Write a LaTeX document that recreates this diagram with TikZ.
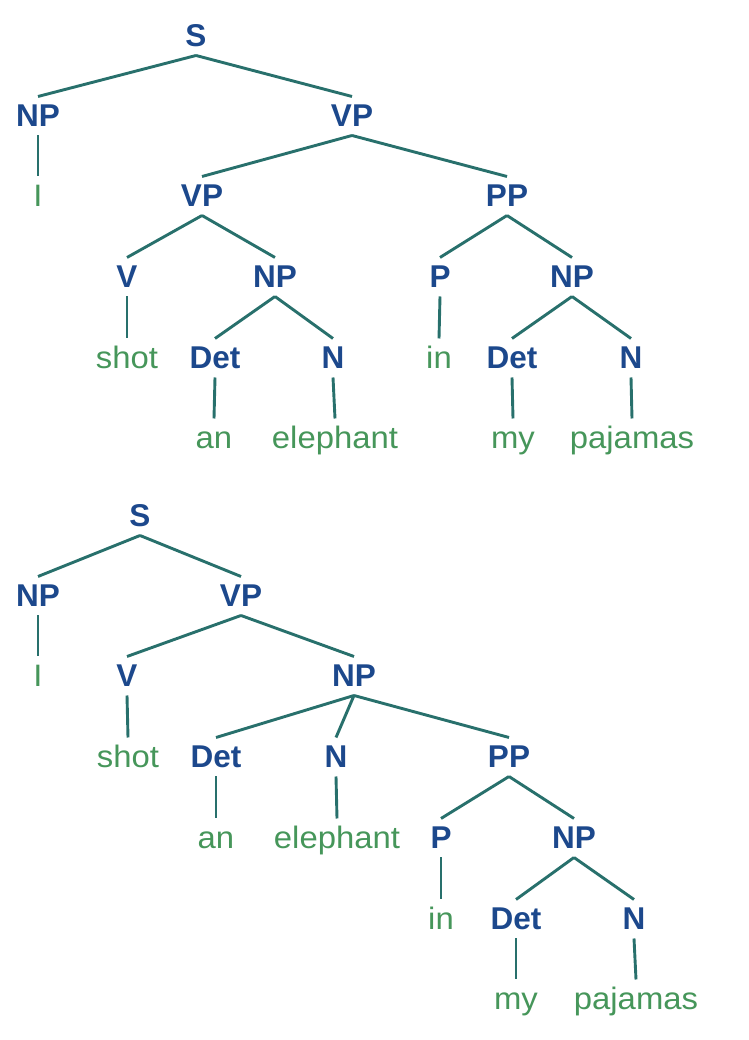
\documentclass[tikz,border=0pt]{standalone}
\usepackage{fontspec}
\setmainfont{Liberation Sans}
\newfontfamily\leaffont{Liberation Sans}[FakeStretch=1.06]
\definecolor{lblblue}{RGB}{28,72,140}
\definecolor{edgeteal}{RGB}{40,112,108}
\definecolor{leafgreen}{RGB}{70,150,90}
\tikzset{
  base node/.style={anchor=base, inner sep=0pt, outer xsep=0pt, outer ysep=8.5pt,
    text height=22pt, text depth=0pt, font=\fontsize{31}{31}\selectfont},
  lbl/.style={base node, text=lblblue, font=\fontsize{31.5}{31.5}\selectfont\bfseries},
  leaf/.style={base node, text=leafgreen, font=\fontsize{31}{31}\selectfont\leaffont},
  edge/.style={draw=edgeteal, line width=2.9pt}
}
\begin{document}
\begin{tikzpicture}[x=1pt,y=1pt]
\useasboundingbox (0,0) rectangle (748,1040);
% ---------- Tree 1 ----------
\node[lbl] (aS)   at (196,{1040-47}) {S};
\node[lbl] (aNP)  at (38,{1040-127}) {NP};
\node[lbl] (aVP)  at (352,{1040-127}) {VP};
\node[leaf] (aI)  at (38,{1040-207}) {I};
\node[lbl] (aVPb) at (202,{1040-207}) {VP};
\node[lbl] (aPP)  at (507,{1040-207}) {PP};
\node[lbl] (aV)   at (127,{1040-288}) {V};
\node[lbl] (aNPb) at (275,{1040-288}) {NP};
\node[lbl] (aP)   at (440,{1040-288}) {P};
\node[lbl] (aNPc) at (572,{1040-288}) {NP};
\node[leaf] (ashot) at (127,{1040-369}) {shot};
\node[lbl] (aDet) at (215,{1040-369}) {Det};
\node[lbl] (aN)   at (333,{1040-369}) {N};
\node[leaf] (ain) at (439,{1040-369}) {in};
\node[lbl] (aDetb) at (512,{1040-369}) {Det};
\node[lbl] (aNb)  at (631,{1040-369}) {N};
\node[leaf] (aan) at (214,{1040-449}) {an};
\node[leaf] (aele) at (335,{1040-449}) {elephant};
\node[leaf] (amy) at (513,{1040-449}) {my};
\node[leaf] (apaj) at (632,{1040-449}) {pajamas};
\draw[edge] (aS.south) -- (aNP.north);
\draw[edge] (aS.south) -- (aVP.north);
\draw[edge] (aNP.south) -- (aI.north);
\draw[edge] (aVP.south) -- (aVPb.north);
\draw[edge] (aVP.south) -- (aPP.north);
\draw[edge] (aVPb.south) -- (aV.north);
\draw[edge] (aVPb.south) -- (aNPb.north);
\draw[edge] (aPP.south) -- (aP.north);
\draw[edge] (aPP.south) -- (aNPc.north);
\draw[edge] (aV.south) -- (ashot.north);
\draw[edge] (aNPb.south) -- (aDet.north);
\draw[edge] (aNPb.south) -- (aN.north);
\draw[edge] (aP.south) -- (ain.north);
\draw[edge] (aNPc.south) -- (aDetb.north);
\draw[edge] (aNPc.south) -- (aNb.north);
\draw[edge] (aDet.south) -- (aan.north);
\draw[edge] (aN.south) -- (aele.north);
\draw[edge] (aDetb.south) -- (amy.north);
\draw[edge] (aNb.south) -- (apaj.north);
% ---------- Tree 2 ----------
\node[lbl] (bS)   at (140,{1040-527}) {S};
\node[lbl] (bNP)  at (38,{1040-607}) {NP};
\node[lbl] (bVP)  at (241,{1040-607}) {VP};
\node[leaf] (bI)  at (38,{1040-687}) {I};
\node[lbl] (bV)   at (127,{1040-687}) {V};
\node[lbl] (bNPb) at (354,{1040-687}) {NP};
\node[leaf] (bshot) at (128,{1040-768}) {shot};
\node[lbl] (bDet) at (216,{1040-768}) {Det};
\node[lbl] (bN)   at (336,{1040-768}) {N};
\node[lbl] (bPP)  at (509,{1040-768}) {PP};
\node[leaf] (ban) at (216,{1040-849}) {an};
\node[leaf] (bele) at (337,{1040-849}) {elephant};
\node[lbl] (bP)   at (441,{1040-849}) {P};
\node[lbl] (bNPc) at (574,{1040-849}) {NP};
\node[leaf] (bin) at (441,{1040-930}) {in};
\node[lbl] (bDetb) at (516,{1040-930}) {Det};
\node[lbl] (bNb)  at (634,{1040-930}) {N};
\node[leaf] (bmy) at (516,{1040-1010}) {my};
\node[leaf] (bpaj) at (636,{1040-1010}) {pajamas};
\draw[edge] (bS.south) -- (bNP.north);
\draw[edge] (bS.south) -- (bVP.north);
\draw[edge] (bNP.south) -- (bI.north);
\draw[edge] (bVP.south) -- (bV.north);
\draw[edge] (bVP.south) -- (bNPb.north);
\draw[edge] (bV.south) -- (bshot.north);
\draw[edge] (bNPb.south) -- (bDet.north);
\draw[edge] (bNPb.south) -- (bN.north);
\draw[edge] (bNPb.south) -- (bPP.north);
\draw[edge] (bDet.south) -- (ban.north);
\draw[edge] (bN.south) -- (bele.north);
\draw[edge] (bPP.south) -- (bP.north);
\draw[edge] (bPP.south) -- (bNPc.north);
\draw[edge] (bP.south) -- (bin.north);
\draw[edge] (bNPc.south) -- (bDetb.north);
\draw[edge] (bNPc.south) -- (bNb.north);
\draw[edge] (bDetb.south) -- (bmy.north);
\draw[edge] (bNb.south) -- (bpaj.north);
\end{tikzpicture}
\end{document}
